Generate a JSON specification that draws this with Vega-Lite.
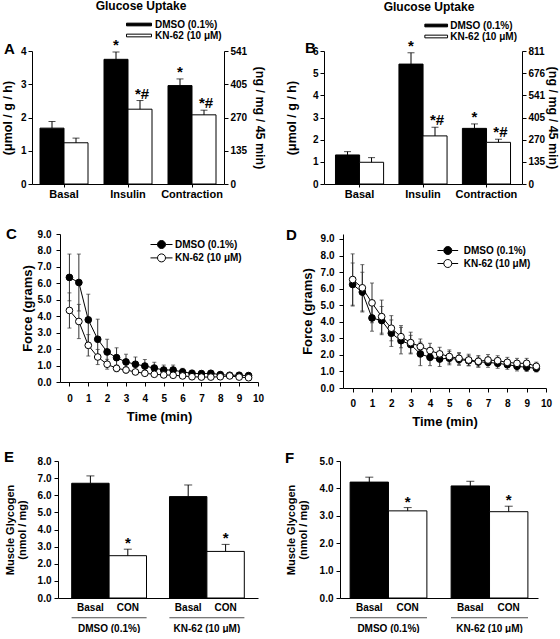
{
"$schema":"https://vega.github.io/schema/vega-lite/v6.json",
"padding":{"left":1,"top":0,"right":0,"bottom":0},
"spacing":22,
"resolve":{"scale":{"fill":"independent"},"legend":{"fill":"independent"}},
"config":{"view":{"stroke":null},"font":"Liberation Sans","background":"white",
"axis":{"grid":false,"domainColor":"black","tickColor":"black","labelColor":"black","titleColor":"black","labelFont":"Liberation Sans","titleFont":"Liberation Sans","labelFontWeight":"bold","titleFontWeight":"bold","labelFontSize":10,"tickSize":4,"labelFlush":false,"labelOverlap":false},
"legend":{"labelFont":"Liberation Sans","labelFontWeight":"bold","labelFontSize":10,"labelColor":"black","padding":0,"symbolStrokeColor":"black","symbolStrokeWidth":1},
"title":{"font":"Liberation Sans","fontWeight":"bold","color":"black","fontSize":15},
"text":{"font":"Liberation Sans","color":"black"}},
"vconcat":[
{"vconcat":[
{"hconcat":[
{"width":1,"height":1,"mark":"point","data":{"values":[]}},
{"width":192,"height":133,
 "title":{"text":"Glucose Uptake","anchor":"middle","frame":"group","dx":13,"fontSize":12,"offset":6},
 "data":{"values":[
  {"cond":"Basal","trt":"DMSO (0.1%)","m":1.68,"hi":1.88,"sig":""},
  {"cond":"Basal","trt":"KN-62 (10 μM)","m":1.24,"hi":1.38,"sig":""},
  {"cond":"Insulin","trt":"DMSO (0.1%)","m":3.75,"hi":3.97,"sig":"*"},
  {"cond":"Insulin","trt":"KN-62 (10 μM)","m":2.25,"hi":2.51,"sig":"*#"},
  {"cond":"Contraction","trt":"DMSO (0.1%)","m":2.96,"hi":3.16,"sig":"*"},
  {"cond":"Contraction","trt":"KN-62 (10 μM)","m":2.08,"hi":2.22,"sig":"*#"}]},
 "layer":[
  {"encoding":{
    "x":{"field":"cond","type":"nominal","sort":["Basal","Insulin","Contraction"],"scale":{"paddingInner":0.25,"paddingOuter":0.125},"axis":{"title":null,"labelAngle":0,"labelFontSize":11,"tickSize":3,"labelPadding":1}},
    "y":{"field":"m","type":"quantitative","scale":{"domain":[0,4],"nice":false},"axis":{"values":[0,1,2,3,4],"labelOverlap":false,"title":"(μmol / g / h)","titleFontSize":12.5,"labelPadding":2,"titlePadding":6}}},
   "layer":[
    {"transform":[{"filter":{"field":"trt","equal":"DMSO (0.1%)"}}],"mark":{"type":"bar","width":{"band":0.5},"xOffset":-12,"stroke":"black","strokeWidth":1},
     "encoding":{"fill":{"field":"trt","type":"nominal","scale":{"domain":["DMSO (0.1%)","KN-62 (10 μM)"],"range":["black","white"]},
       "legend":{"orient":"none","legendX":101.5,"legendY":-32,"title":null,"symbolType":"M-2.5,-0.27H2.5V0.27H-2.5Z","symbolSize":100,"labelOffset":10.5,"rowPadding":0}}}},
    {"transform":[{"filter":{"field":"trt","equal":"KN-62 (10 μM)"}}],"mark":{"type":"bar","width":{"band":0.5},"xOffset":12,"stroke":"black","strokeWidth":1},
     "encoding":{"fill":{"field":"trt","type":"nominal","scale":{"domain":["DMSO (0.1%)","KN-62 (10 μM)"],"range":["black","white"]},
       "legend":{"orient":"none","legendX":101.5,"legendY":-32,"title":null,"symbolType":"M-2.5,-0.27H2.5V0.27H-2.5Z","symbolSize":100,"labelOffset":10.5,"rowPadding":0}}}},
    {"transform":[{"filter":{"field":"trt","equal":"DMSO (0.1%)"}}],"mark":{"type":"rule","color":"black","xOffset":-12},"encoding":{"y2":{"field":"hi"}}},
    {"transform":[{"filter":{"field":"trt","equal":"KN-62 (10 μM)"}}],"mark":{"type":"rule","color":"black","xOffset":12},"encoding":{"y2":{"field":"hi"}}},
    {"transform":[{"filter":{"field":"trt","equal":"DMSO (0.1%)"}}],"mark":{"type":"tick","orient":"horizontal","size":7,"thickness":1,"color":"black","xOffset":-12},"encoding":{"y":{"field":"hi","type":"quantitative","scale":{"domain":[0,4],"nice":false},"axis":{"values":[0,1,2,3,4],"labelOverlap":false,"title":"(μmol / g / h)","titleFontSize":12.5,"labelPadding":2,"titlePadding":6}}}},
    {"transform":[{"filter":{"field":"trt","equal":"KN-62 (10 μM)"}}],"mark":{"type":"tick","orient":"horizontal","size":7,"thickness":1,"color":"black","xOffset":12},"encoding":{"y":{"field":"hi","type":"quantitative","scale":{"domain":[0,4],"nice":false},"axis":{"values":[0,1,2,3,4],"labelOverlap":false,"title":"(μmol / g / h)","titleFontSize":12.5,"labelPadding":2,"titlePadding":6}}}},
    {"transform":[{"filter":{"field":"trt","equal":"DMSO (0.1%)"}}],"mark":{"type":"text","fontSize":15,"fontWeight":"bold","baseline":"alphabetic","dy":-2,"xOffset":-12},"encoding":{"y":{"field":"hi","type":"quantitative","scale":{"domain":[0,4],"nice":false},"axis":{"values":[0,1,2,3,4],"labelOverlap":false,"title":"(μmol / g / h)","titleFontSize":12.5,"labelPadding":2,"titlePadding":6}},"text":{"field":"sig"}}},
    {"transform":[{"filter":{"field":"trt","equal":"KN-62 (10 μM)"}}],"mark":{"type":"text","fontSize":15,"fontWeight":"bold","baseline":"alphabetic","dy":-2,"xOffset":14},"encoding":{"y":{"field":"hi","type":"quantitative","scale":{"domain":[0,4],"nice":false},"axis":{"values":[0,1,2,3,4],"labelOverlap":false,"title":"(μmol / g / h)","titleFontSize":12.5,"labelPadding":2,"titlePadding":6}},"text":{"field":"sig"}}}
   ]},
  {"mark":{"type":"rule","opacity":0},"encoding":{"y":{"datum":0,"type":"quantitative","scale":{"domain":[0,541],"nice":false},"axis":{"orient":"right","values":[0,135,270,405,541],"labelOverlap":false,"title":"(ng / mg / 45 min)","titleFontSize":12.5,"labelPadding":2,"titlePadding":6}}}},
  {"data":{"values":[{"lab":"A"}]},"mark":{"type":"text","fontSize":15,"fontWeight":"bold","align":"left","baseline":"alphabetic"},"encoding":{"x":{"value":-28},"y":{"value":3},"text":{"field":"lab"}}}
 ],
 "resolve":{"scale":{"y":"independent"}}},
{"width":100,"height":1,"mark":"point","data":{"values":[]}},
{"width":198,"height":133,
 "title":{"text":"Glucose Uptake","anchor":"middle","frame":"group","dx":6,"fontSize":12,"offset":6},
 "data":{"values":[
  {"cond":"Basal","trt":"DMSO (0.1%)","m":1.31,"hi":1.46,"sig":""},
  {"cond":"Basal","trt":"KN-62 (10 μM)","m":0.98,"hi":1.19,"sig":""},
  {"cond":"Insulin","trt":"DMSO (0.1%)","m":5.41,"hi":5.92,"sig":"*"},
  {"cond":"Insulin","trt":"KN-62 (10 μM)","m":2.17,"hi":2.56,"sig":"*#"},
  {"cond":"Contraction","trt":"DMSO (0.1%)","m":2.51,"hi":2.71,"sig":"*"},
  {"cond":"Contraction","trt":"KN-62 (10 μM)","m":1.88,"hi":2.02,"sig":"*#"}]},
 "layer":[
  {"encoding":{
    "x":{"field":"cond","type":"nominal","sort":["Basal","Insulin","Contraction"],"scale":{"paddingInner":0.24,"paddingOuter":0.18},"axis":{"title":null,"labelAngle":0,"labelFontSize":11,"tickSize":3,"labelPadding":1}},
    "y":{"field":"m","type":"quantitative","scale":{"domain":[0,6],"nice":false},"axis":{"values":[0,1,2,3,4,5,6],"labelOverlap":false,"title":"(μmol / g / h)","titleFontSize":12.5,"labelPadding":2,"titlePadding":14}}},
   "layer":[
    {"transform":[{"filter":{"field":"trt","equal":"DMSO (0.1%)"}}],"mark":{"type":"bar","width":{"band":0.5},"xOffset":-12,"stroke":"black","strokeWidth":1},
     "encoding":{"fill":{"field":"trt","type":"nominal","scale":{"domain":["DMSO (0.1%)","KN-62 (10 μM)"],"range":["black","white"]},
       "legend":{"orient":"none","legendX":106.7,"legendY":-31,"title":null,"symbolType":"M-2.27,-0.27H2.27V0.27H-2.27Z","symbolSize":100,"labelOffset":8.6,"rowPadding":0}}}},
    {"transform":[{"filter":{"field":"trt","equal":"KN-62 (10 μM)"}}],"mark":{"type":"bar","width":{"band":0.5},"xOffset":12,"stroke":"black","strokeWidth":1},
     "encoding":{"fill":{"field":"trt","type":"nominal","scale":{"domain":["DMSO (0.1%)","KN-62 (10 μM)"],"range":["black","white"]},
       "legend":{"orient":"none","legendX":106.7,"legendY":-31,"title":null,"symbolType":"M-2.27,-0.27H2.27V0.27H-2.27Z","symbolSize":100,"labelOffset":8.6,"rowPadding":0}}}},
    {"transform":[{"filter":{"field":"trt","equal":"DMSO (0.1%)"}}],"mark":{"type":"rule","color":"black","xOffset":-12},"encoding":{"y2":{"field":"hi"}}},
    {"transform":[{"filter":{"field":"trt","equal":"KN-62 (10 μM)"}}],"mark":{"type":"rule","color":"black","xOffset":12},"encoding":{"y2":{"field":"hi"}}},
    {"transform":[{"filter":{"field":"trt","equal":"DMSO (0.1%)"}}],"mark":{"type":"tick","orient":"horizontal","size":7,"thickness":1,"color":"black","xOffset":-12},"encoding":{"y":{"field":"hi","type":"quantitative","scale":{"domain":[0,6],"nice":false},"axis":{"values":[0,1,2,3,4,5,6],"labelOverlap":false,"title":"(μmol / g / h)","titleFontSize":12.5,"labelPadding":2,"titlePadding":14}}}},
    {"transform":[{"filter":{"field":"trt","equal":"KN-62 (10 μM)"}}],"mark":{"type":"tick","orient":"horizontal","size":7,"thickness":1,"color":"black","xOffset":12},"encoding":{"y":{"field":"hi","type":"quantitative","scale":{"domain":[0,6],"nice":false},"axis":{"values":[0,1,2,3,4,5,6],"labelOverlap":false,"title":"(μmol / g / h)","titleFontSize":12.5,"labelPadding":2,"titlePadding":14}}}},
    {"transform":[{"filter":{"field":"trt","equal":"DMSO (0.1%)"}}],"mark":{"type":"text","fontSize":15,"fontWeight":"bold","baseline":"alphabetic","dy":-2,"xOffset":-12},"encoding":{"y":{"field":"hi","type":"quantitative","scale":{"domain":[0,6],"nice":false},"axis":{"values":[0,1,2,3,4,5,6],"labelOverlap":false,"title":"(μmol / g / h)","titleFontSize":12.5,"labelPadding":2,"titlePadding":14}},"text":{"field":"sig"}}},
    {"transform":[{"filter":{"field":"trt","equal":"KN-62 (10 μM)"}}],"mark":{"type":"text","fontSize":15,"fontWeight":"bold","baseline":"alphabetic","dy":-2,"xOffset":14},"encoding":{"y":{"field":"hi","type":"quantitative","scale":{"domain":[0,6],"nice":false},"axis":{"values":[0,1,2,3,4,5,6],"labelOverlap":false,"title":"(μmol / g / h)","titleFontSize":12.5,"labelPadding":2,"titlePadding":14}},"text":{"field":"sig"}}}
   ]},
  {"mark":{"type":"rule","opacity":0},"encoding":{"y":{"datum":0,"type":"quantitative","scale":{"domain":[0,811],"nice":false},"axis":{"orient":"right","values":[0,135,270,405,541,676,811],"labelOverlap":false,"title":"(ng / mg / 45 min)","titleFontSize":12.5,"labelPadding":2,"titlePadding":1}}}},
  {"data":{"values":[{"lab":"B"}]},"mark":{"type":"text","fontSize":15,"fontWeight":"bold","align":"left","baseline":"alphabetic"},"encoding":{"x":{"value":-19},"y":{"value":2},"text":{"field":"lab"}}}
 ],
 "resolve":{"scale":{"y":"independent"}}}
],"spacing":0,"bounds":"flush","resolve":{"scale":{"fill":"independent"},"legend":{"fill":"independent"}}},
{"hconcat":[
{"width":29,"height":1,"mark":"point","data":{"values":[]}},
{"width":198,"height":148,
 "title":{"text":"C","anchor":"start","frame":"group","dx":-54,"dy":13,"offset":0},
 "data":{"values":[
  {"t":0,"trt":"DMSO (0.1%)","m":6.36,"lo":4.94,"hi":7.78},
  {"t":0.5,"trt":"DMSO (0.1%)","m":6.05,"lo":4.32,"hi":7.78},
  {"t":1,"trt":"DMSO (0.1%)","m":3.78,"lo":2.22,"hi":5.34},
  {"t":1.5,"trt":"DMSO (0.1%)","m":2.60,"lo":1.38,"hi":3.82},
  {"t":2,"trt":"DMSO (0.1%)","m":1.83,"lo":1.06,"hi":2.60},
  {"t":2.5,"trt":"DMSO (0.1%)","m":1.48,"lo":0.88,"hi":2.08},
  {"t":3,"trt":"DMSO (0.1%)","m":1.22,"lo":0.75,"hi":1.69},
  {"t":3.5,"trt":"DMSO (0.1%)","m":1.08,"lo":0.64,"hi":1.52},
  {"t":4,"trt":"DMSO (0.1%)","m":0.97,"lo":0.57,"hi":1.37},
  {"t":4.5,"trt":"DMSO (0.1%)","m":0.85,"lo":0.50,"hi":1.20},
  {"t":5,"trt":"DMSO (0.1%)","m":0.73,"lo":0.43,"hi":1.03},
  {"t":5.5,"trt":"DMSO (0.1%)","m":0.73,"lo":0.43,"hi":1.03},
  {"t":6,"trt":"DMSO (0.1%)","m":0.61,"lo":0.39,"hi":0.83},
  {"t":6.5,"trt":"DMSO (0.1%)","m":0.53,"lo":0.35,"hi":0.71},
  {"t":7,"trt":"DMSO (0.1%)","m":0.51,"lo":0.36,"hi":0.66},
  {"t":7.5,"trt":"DMSO (0.1%)","m":0.53,"lo":0.38,"hi":0.68},
  {"t":8,"trt":"DMSO (0.1%)","m":0.45,"lo":0.33,"hi":0.57},
  {"t":8.5,"trt":"DMSO (0.1%)","m":0.41,"lo":0.29,"hi":0.53},
  {"t":9,"trt":"DMSO (0.1%)","m":0.41,"lo":0.29,"hi":0.53},
  {"t":9.5,"trt":"DMSO (0.1%)","m":0.39,"lo":0.27,"hi":0.51},
  {"t":0,"trt":"KN-62 (10 μM)","m":4.35,"lo":3.28,"hi":5.42},
  {"t":0.5,"trt":"KN-62 (10 μM)","m":3.68,"lo":2.64,"hi":4.72},
  {"t":1,"trt":"KN-62 (10 μM)","m":2.23,"lo":1.58,"hi":2.88},
  {"t":1.5,"trt":"KN-62 (10 μM)","m":1.52,"lo":1.06,"hi":1.98},
  {"t":2,"trt":"KN-62 (10 μM)","m":1.08,"lo":0.78,"hi":1.38},
  {"t":2.5,"trt":"KN-62 (10 μM)","m":0.83,"lo":0.63,"hi":1.03},
  {"t":3,"trt":"KN-62 (10 μM)","m":0.73,"lo":0.55,"hi":0.91},
  {"t":3.5,"trt":"KN-62 (10 μM)","m":0.61,"lo":0.46,"hi":0.76},
  {"t":4,"trt":"KN-62 (10 μM)","m":0.53,"lo":0.40,"hi":0.66},
  {"t":4.5,"trt":"KN-62 (10 μM)","m":0.47,"lo":0.35,"hi":0.59},
  {"t":5,"trt":"KN-62 (10 μM)","m":0.43,"lo":0.33,"hi":0.53},
  {"t":5.5,"trt":"KN-62 (10 μM)","m":0.41,"lo":0.31,"hi":0.51},
  {"t":6,"trt":"KN-62 (10 μM)","m":0.37,"lo":0.27,"hi":0.47},
  {"t":6.5,"trt":"KN-62 (10 μM)","m":0.32,"lo":0.24,"hi":0.40},
  {"t":7,"trt":"KN-62 (10 μM)","m":0.30,"lo":0.22,"hi":0.38},
  {"t":7.5,"trt":"KN-62 (10 μM)","m":0.30,"lo":0.22,"hi":0.38},
  {"t":8,"trt":"KN-62 (10 μM)","m":0.32,"lo":0.24,"hi":0.40},
  {"t":8.5,"trt":"KN-62 (10 μM)","m":0.37,"lo":0.29,"hi":0.45},
  {"t":9,"trt":"KN-62 (10 μM)","m":0.30,"lo":0.22,"hi":0.38},
  {"t":9.5,"trt":"KN-62 (10 μM)","m":0.26,"lo":0.18,"hi":0.34}]},
 "encoding":{"x":{"field":"t","type":"quantitative","scale":{"domain":[-0.5,10],"nice":false,"zero":false},"axis":{"values":[0,1,2,3,4,5,6,7,8,9,10],"labelOverlap":false,"title":"Time (min)","titleFontSize":13,"labelPadding":7,"titlePadding":7}}},
 "layer":[
  {"mark":{"type":"rule","color":"#333333"},"encoding":{"y":{"field":"lo","type":"quantitative","scale":{"domain":[0,9],"nice":false},"axis":{"values":[0,1,2,3,4,5,6,7,8,9],"labelOverlap":false,"format":".1f","title":"Force (grams)","titleFontSize":13,"labelPadding":5,"titlePadding":3}},"y2":{"field":"hi"}}},
  {"mark":{"type":"tick","orient":"horizontal","size":4,"thickness":1,"color":"#333333"},"encoding":{"y":{"field":"hi","type":"quantitative","scale":{"domain":[0,9],"nice":false},"axis":{"values":[0,1,2,3,4,5,6,7,8,9],"labelOverlap":false,"format":".1f","title":"Force (grams)","titleFontSize":13,"labelPadding":5,"titlePadding":3}}}},
  {"mark":{"type":"tick","orient":"horizontal","size":4,"thickness":1,"color":"#333333"},"encoding":{"y":{"field":"lo","type":"quantitative","scale":{"domain":[0,9],"nice":false},"axis":{"values":[0,1,2,3,4,5,6,7,8,9],"labelOverlap":false,"format":".1f","title":"Force (grams)","titleFontSize":13,"labelPadding":5,"titlePadding":3}}}},
  {"mark":{"type":"line","color":"black","strokeWidth":1},"encoding":{"y":{"field":"m","type":"quantitative","scale":{"domain":[0,9],"nice":false},"axis":{"values":[0,1,2,3,4,5,6,7,8,9],"labelOverlap":false,"format":".1f","title":"Force (grams)","titleFontSize":13,"labelPadding":5,"titlePadding":3}},"detail":{"field":"trt"}}},
  {"mark":{"type":"circle","size":45,"stroke":"black","strokeWidth":1,"opacity":1},"encoding":{"y":{"field":"m","type":"quantitative","scale":{"domain":[0,9],"nice":false},"axis":{"values":[0,1,2,3,4,5,6,7,8,9],"labelOverlap":false,"format":".1f","title":"Force (grams)","titleFontSize":13,"labelPadding":5,"titlePadding":3}},
    "fill":{"field":"trt","type":"nominal","scale":{"domain":["DMSO (0.1%)","KN-62 (10 μM)"],"range":["black","white"]},
     "legend":{"orient":"none","legendX":96,"legendY":5,"title":null,"symbolType":"M-2.2,0H-0.8M0.8,0H2.2M-0.8,0A0.8,0.8 0 1,1 0.8,0A0.8,0.8 0 1,1 -0.8,0Z","symbolSize":100,"labelOffset":8,"rowPadding":0.4}}}}
 ]},
{"width":85,"height":1,"mark":"point","data":{"values":[]}},
{"width":203,"height":154,
 "title":{"text":"D","anchor":"start","frame":"group","dx":-57,"dy":9,"offset":0},
 "data":{"values":[
  {"t":0,"trt":"DMSO (0.1%)","m":6.25,"lo":4.95,"hi":7.55},
  {"t":0.5,"trt":"DMSO (0.1%)","m":5.79,"lo":4.59,"hi":6.99},
  {"t":1,"trt":"DMSO (0.1%)","m":4.23,"lo":3.43,"hi":5.03},
  {"t":1.5,"trt":"DMSO (0.1%)","m":4.07,"lo":3.22,"hi":4.92},
  {"t":2,"trt":"DMSO (0.1%)","m":3.31,"lo":2.51,"hi":4.11},
  {"t":2.5,"trt":"DMSO (0.1%)","m":2.86,"lo":2.06,"hi":3.66},
  {"t":3,"trt":"DMSO (0.1%)","m":2.62,"lo":2.06,"hi":3.18},
  {"t":3.5,"trt":"DMSO (0.1%)","m":2.06,"lo":1.35,"hi":2.77},
  {"t":4,"trt":"DMSO (0.1%)","m":1.85,"lo":1.35,"hi":2.35},
  {"t":4.5,"trt":"DMSO (0.1%)","m":1.75,"lo":1.30,"hi":2.20},
  {"t":5,"trt":"DMSO (0.1%)","m":1.80,"lo":1.40,"hi":2.20},
  {"t":5.5,"trt":"DMSO (0.1%)","m":1.72,"lo":1.37,"hi":2.07},
  {"t":6,"trt":"DMSO (0.1%)","m":1.65,"lo":1.35,"hi":1.95},
  {"t":6.5,"trt":"DMSO (0.1%)","m":1.57,"lo":1.27,"hi":1.87},
  {"t":7,"trt":"DMSO (0.1%)","m":1.55,"lo":1.25,"hi":1.85},
  {"t":7.5,"trt":"DMSO (0.1%)","m":1.49,"lo":1.19,"hi":1.79},
  {"t":8,"trt":"DMSO (0.1%)","m":1.41,"lo":1.13,"hi":1.69},
  {"t":8.5,"trt":"DMSO (0.1%)","m":1.31,"lo":1.03,"hi":1.59},
  {"t":9,"trt":"DMSO (0.1%)","m":1.25,"lo":1.00,"hi":1.50},
  {"t":9.5,"trt":"DMSO (0.1%)","m":1.19,"lo":0.97,"hi":1.41},
  {"t":0,"trt":"KN-62 (10 μM)","m":6.55,"lo":5.00,"hi":8.10},
  {"t":0.5,"trt":"KN-62 (10 μM)","m":6.05,"lo":4.65,"hi":7.45},
  {"t":1,"trt":"KN-62 (10 μM)","m":5.14,"lo":3.94,"hi":6.34},
  {"t":1.5,"trt":"KN-62 (10 μM)","m":4.31,"lo":3.31,"hi":5.31},
  {"t":2,"trt":"KN-62 (10 μM)","m":3.61,"lo":2.85,"hi":4.37},
  {"t":2.5,"trt":"KN-62 (10 μM)","m":3.10,"lo":2.43,"hi":3.77},
  {"t":3,"trt":"KN-62 (10 μM)","m":2.74,"lo":2.11,"hi":3.37},
  {"t":3.5,"trt":"KN-62 (10 μM)","m":2.50,"lo":2.04,"hi":2.96},
  {"t":4,"trt":"KN-62 (10 μM)","m":2.26,"lo":1.82,"hi":2.70},
  {"t":4.5,"trt":"KN-62 (10 μM)","m":2.06,"lo":1.66,"hi":2.46},
  {"t":5,"trt":"KN-62 (10 μM)","m":1.90,"lo":1.50,"hi":2.30},
  {"t":5.5,"trt":"KN-62 (10 μM)","m":1.79,"lo":1.44,"hi":2.14},
  {"t":6,"trt":"KN-62 (10 μM)","m":1.69,"lo":1.34,"hi":2.04},
  {"t":6.5,"trt":"KN-62 (10 μM)","m":1.61,"lo":1.26,"hi":1.96},
  {"t":7,"trt":"KN-62 (10 μM)","m":1.69,"lo":1.36,"hi":2.02},
  {"t":7.5,"trt":"KN-62 (10 μM)","m":1.65,"lo":1.35,"hi":1.95},
  {"t":8,"trt":"KN-62 (10 μM)","m":1.55,"lo":1.25,"hi":1.85},
  {"t":8.5,"trt":"KN-62 (10 μM)","m":1.49,"lo":1.19,"hi":1.79},
  {"t":9,"trt":"KN-62 (10 μM)","m":1.49,"lo":1.19,"hi":1.79},
  {"t":9.5,"trt":"KN-62 (10 μM)","m":1.31,"lo":1.06,"hi":1.56}]},
 "encoding":{"x":{"field":"t","type":"quantitative","scale":{"domain":[-0.5,10],"nice":false,"zero":false},"axis":{"values":[0,1,2,3,4,5,6,7,8,9,10],"labelOverlap":false,"title":"Time (min)","titleFontSize":13,"labelPadding":6,"titlePadding":7}}},
 "layer":[
  {"mark":{"type":"rule","color":"#333333"},"encoding":{"y":{"field":"lo","type":"quantitative","scale":{"domain":[0,9.3],"nice":false},"axis":{"values":[0,1,2,3,4,5,6,7,8,9],"labelOverlap":false,"format":".1f","title":"Force (grams)","titleFontSize":13,"labelPadding":5,"titlePadding":6}},"y2":{"field":"hi"}}},
  {"mark":{"type":"tick","orient":"horizontal","size":4,"thickness":1,"color":"#333333"},"encoding":{"y":{"field":"hi","type":"quantitative","scale":{"domain":[0,9.3],"nice":false},"axis":{"values":[0,1,2,3,4,5,6,7,8,9],"labelOverlap":false,"format":".1f","title":"Force (grams)","titleFontSize":13,"labelPadding":5,"titlePadding":6}}}},
  {"mark":{"type":"tick","orient":"horizontal","size":4,"thickness":1,"color":"#333333"},"encoding":{"y":{"field":"lo","type":"quantitative","scale":{"domain":[0,9.3],"nice":false},"axis":{"values":[0,1,2,3,4,5,6,7,8,9],"labelOverlap":false,"format":".1f","title":"Force (grams)","titleFontSize":13,"labelPadding":5,"titlePadding":6}}}},
  {"mark":{"type":"line","color":"black","strokeWidth":1},"encoding":{"y":{"field":"m","type":"quantitative","scale":{"domain":[0,9.3],"nice":false},"axis":{"values":[0,1,2,3,4,5,6,7,8,9],"labelOverlap":false,"format":".1f","title":"Force (grams)","titleFontSize":13,"labelPadding":5,"titlePadding":6}},"detail":{"field":"trt"}}},
  {"mark":{"type":"circle","size":45,"stroke":"black","strokeWidth":1,"opacity":1},"encoding":{"y":{"field":"m","type":"quantitative","scale":{"domain":[0,9.3],"nice":false},"axis":{"values":[0,1,2,3,4,5,6,7,8,9],"labelOverlap":false,"format":".1f","title":"Force (grams)","titleFontSize":13,"labelPadding":5,"titlePadding":6}},
    "fill":{"field":"trt","type":"nominal","scale":{"domain":["DMSO (0.1%)","KN-62 (10 μM)"],"range":["black","white"]},
     "legend":{"orient":"none","legendX":99.3,"legendY":11,"title":null,"symbolType":"M-2.07,0H-0.8M0.8,0H2.07M-0.8,0A0.8,0.8 0 1,1 0.8,0A0.8,0.8 0 1,1 -0.8,0Z","symbolSize":100,"labelOffset":10.4,"rowPadding":0}}}}
 ]}
],"spacing":0,"bounds":"flush","resolve":{"scale":{"fill":"independent"},"legend":{"fill":"independent"}}}
],"spacing":28,"resolve":{"scale":{"fill":"independent"},"legend":{"fill":"independent"}}},
{"hconcat":[
{"width":27,"height":1,"mark":"point","data":{"values":[]}},
{"width":200,"height":137,
 "title":{"text":"E","anchor":"start","frame":"group","dx":-54,"dy":9,"offset":0},
 "data":{"values":[
  {"grp":"DMSO (0.1%)","cond":"Basal","m":6.70,"hi":7.13,"sig":""},
  {"grp":"DMSO (0.1%)","cond":"CON","m":2.47,"hi":2.85,"sig":"*"},
  {"grp":"KN-62 (10 μM)","cond":"Basal","m":5.92,"hi":6.60,"sig":""},
  {"grp":"KN-62 (10 μM)","cond":"CON","m":2.72,"hi":3.13,"sig":"*"}]},
 "encoding":{"x":{"field":"grp","type":"nominal","sort":["DMSO (0.1%)","KN-62 (10 μM)"],"scale":{"paddingInner":0.235,"paddingOuter":0.14},"axis":{"title":null,"labelAngle":0,"ticks":false,"labelPadding":25}},
   "y":{"field":"m","type":"quantitative","scale":{"domain":[0,8],"nice":false},"axis":{"values":[0,1,2,3,4,5,6,7,8],"labelOverlap":false,"format":".1f","title":["Muscle Glycogen","(nmol / mg)"],"titleFontSize":11,"titleLineHeight":12,"labelPadding":3,"titlePadding":10}}},
 "layer":[
  {"transform":[{"filter":{"field":"cond","equal":"Basal"}}],"mark":{"type":"bar","width":{"band":0.5},"xOffset":-18.7,"fill":"black","stroke":"black","strokeWidth":1}},
  {"transform":[{"filter":{"field":"cond","equal":"CON"}}],"mark":{"type":"bar","width":{"band":0.5},"xOffset":18.7,"fill":"white","stroke":"black","strokeWidth":1}},
  {"transform":[{"filter":{"field":"cond","equal":"Basal"}}],"mark":{"type":"rule","color":"black","xOffset":-18.7},"encoding":{"y2":{"field":"hi"}}},
  {"transform":[{"filter":{"field":"cond","equal":"CON"}}],"mark":{"type":"rule","color":"black","xOffset":18.7},"encoding":{"y2":{"field":"hi"}}},
  {"transform":[{"filter":{"field":"cond","equal":"Basal"}}],"mark":{"type":"tick","orient":"horizontal","size":8,"thickness":1,"color":"black","xOffset":-18.7},"encoding":{"y":{"field":"hi","type":"quantitative","scale":{"domain":[0,8],"nice":false},"axis":{"values":[0,1,2,3,4,5,6,7,8],"labelOverlap":false,"format":".1f","title":["Muscle Glycogen","(nmol / mg)"],"titleFontSize":11,"titleLineHeight":12,"labelPadding":3,"titlePadding":10}}}},
  {"transform":[{"filter":{"field":"cond","equal":"CON"}}],"mark":{"type":"tick","orient":"horizontal","size":8,"thickness":1,"color":"black","xOffset":18.7},"encoding":{"y":{"field":"hi","type":"quantitative","scale":{"domain":[0,8],"nice":false},"axis":{"values":[0,1,2,3,4,5,6,7,8],"labelOverlap":false,"format":".1f","title":["Muscle Glycogen","(nmol / mg)"],"titleFontSize":11,"titleLineHeight":12,"labelPadding":3,"titlePadding":10}}}},
  {"transform":[{"filter":{"field":"cond","equal":"CON"}}],"mark":{"type":"text","fontSize":15,"fontWeight":"bold","baseline":"alphabetic","dy":-1,"xOffset":18.7},"encoding":{"y":{"field":"hi","type":"quantitative","scale":{"domain":[0,8],"nice":false},"axis":{"values":[0,1,2,3,4,5,6,7,8],"labelOverlap":false,"format":".1f","title":["Muscle Glycogen","(nmol / mg)"],"titleFontSize":11,"titleLineHeight":12,"labelPadding":3,"titlePadding":10}},"text":{"field":"sig"}}},
  {"transform":[{"filter":{"field":"cond","equal":"Basal"}}],"mark":{"type":"text","fontSize":10,"fontWeight":"bold","baseline":"middle","xOffset":-18.7},"encoding":{"y":{"datum":-0.61,"type":"quantitative","scale":{"domain":[0,8],"nice":false},"axis":{"values":[0,1,2,3,4,5,6,7,8],"labelOverlap":false,"format":".1f","title":["Muscle Glycogen","(nmol / mg)"],"titleFontSize":11,"titleLineHeight":12,"labelPadding":3,"titlePadding":10}},"text":{"field":"cond"}}},
  {"transform":[{"filter":{"field":"cond","equal":"CON"}}],"mark":{"type":"text","fontSize":10,"fontWeight":"bold","baseline":"middle","xOffset":18.7},"encoding":{"y":{"datum":-0.61,"type":"quantitative","scale":{"domain":[0,8],"nice":false},"axis":{"values":[0,1,2,3,4,5,6,7,8],"labelOverlap":false,"format":".1f","title":["Muscle Glycogen","(nmol / mg)"],"titleFontSize":11,"titleLineHeight":12,"labelPadding":3,"titlePadding":10}},"text":{"field":"cond"}}},
  {"transform":[{"filter":{"field":"cond","equal":"Basal"}}],"mark":{"type":"tick","orient":"horizontal","size":75,"thickness":1,"color":"black"},"encoding":{"y":{"datum":-1.15,"type":"quantitative","scale":{"domain":[0,8],"nice":false},"axis":{"values":[0,1,2,3,4,5,6,7,8],"labelOverlap":false,"format":".1f","title":["Muscle Glycogen","(nmol / mg)"],"titleFontSize":11,"titleLineHeight":12,"labelPadding":3,"titlePadding":10}}}}
 ]},
{"width":82,"height":1,"mark":"point","data":{"values":[]}},
{"width":198,"height":137,
 "title":{"text":"F","anchor":"start","frame":"group","dx":-55,"dy":10,"offset":0},
 "data":{"values":[
  {"grp":"DMSO (0.1%)","cond":"Basal","m":4.23,"hi":4.41,"sig":""},
  {"grp":"DMSO (0.1%)","cond":"CON","m":3.18,"hi":3.30,"sig":"*"},
  {"grp":"KN-62 (10 μM)","cond":"Basal","m":4.09,"hi":4.26,"sig":""},
  {"grp":"KN-62 (10 μM)","cond":"CON","m":3.15,"hi":3.35,"sig":"*"}]},
 "encoding":{"x":{"field":"grp","type":"nominal","sort":["DMSO (0.1%)","KN-62 (10 μM)"],"scale":{"paddingInner":0.24,"paddingOuter":0.1},"axis":{"title":null,"labelAngle":0,"ticks":false,"labelPadding":25}},
   "y":{"field":"m","type":"quantitative","scale":{"domain":[0,5],"nice":false},"axis":{"values":[0,1,2,3,4,5],"labelOverlap":false,"format":".1f","title":["Muscle Glycogen","(nmol / mg)"],"titleFontSize":11,"titleLineHeight":12,"labelPadding":3,"titlePadding":11}}},
 "layer":[
  {"transform":[{"filter":{"field":"cond","equal":"Basal"}}],"mark":{"type":"bar","width":{"band":0.5},"xOffset":-19.2,"fill":"black","stroke":"black","strokeWidth":1}},
  {"transform":[{"filter":{"field":"cond","equal":"CON"}}],"mark":{"type":"bar","width":{"band":0.5},"xOffset":19.2,"fill":"white","stroke":"black","strokeWidth":1}},
  {"transform":[{"filter":{"field":"cond","equal":"Basal"}}],"mark":{"type":"rule","color":"black","xOffset":-19.2},"encoding":{"y2":{"field":"hi"}}},
  {"transform":[{"filter":{"field":"cond","equal":"CON"}}],"mark":{"type":"rule","color":"black","xOffset":19.2},"encoding":{"y2":{"field":"hi"}}},
  {"transform":[{"filter":{"field":"cond","equal":"Basal"}}],"mark":{"type":"tick","orient":"horizontal","size":8,"thickness":1,"color":"black","xOffset":-19.2},"encoding":{"y":{"field":"hi","type":"quantitative","scale":{"domain":[0,5],"nice":false},"axis":{"values":[0,1,2,3,4,5],"labelOverlap":false,"format":".1f","title":["Muscle Glycogen","(nmol / mg)"],"titleFontSize":11,"titleLineHeight":12,"labelPadding":3,"titlePadding":11}}}},
  {"transform":[{"filter":{"field":"cond","equal":"CON"}}],"mark":{"type":"tick","orient":"horizontal","size":8,"thickness":1,"color":"black","xOffset":19.2},"encoding":{"y":{"field":"hi","type":"quantitative","scale":{"domain":[0,5],"nice":false},"axis":{"values":[0,1,2,3,4,5],"labelOverlap":false,"format":".1f","title":["Muscle Glycogen","(nmol / mg)"],"titleFontSize":11,"titleLineHeight":12,"labelPadding":3,"titlePadding":11}}}},
  {"transform":[{"filter":{"field":"cond","equal":"CON"}}],"mark":{"type":"text","fontSize":15,"fontWeight":"bold","baseline":"alphabetic","dy":-1,"xOffset":19.2},"encoding":{"y":{"field":"hi","type":"quantitative","scale":{"domain":[0,5],"nice":false},"axis":{"values":[0,1,2,3,4,5],"labelOverlap":false,"format":".1f","title":["Muscle Glycogen","(nmol / mg)"],"titleFontSize":11,"titleLineHeight":12,"labelPadding":3,"titlePadding":11}},"text":{"field":"sig"}}},
  {"transform":[{"filter":{"field":"cond","equal":"Basal"}}],"mark":{"type":"text","fontSize":10,"fontWeight":"bold","baseline":"middle","xOffset":-19.2},"encoding":{"y":{"datum":-0.38,"type":"quantitative","scale":{"domain":[0,5],"nice":false},"axis":{"values":[0,1,2,3,4,5],"labelOverlap":false,"format":".1f","title":["Muscle Glycogen","(nmol / mg)"],"titleFontSize":11,"titleLineHeight":12,"labelPadding":3,"titlePadding":11}},"text":{"field":"cond"}}},
  {"transform":[{"filter":{"field":"cond","equal":"CON"}}],"mark":{"type":"text","fontSize":10,"fontWeight":"bold","baseline":"middle","xOffset":19.2},"encoding":{"y":{"datum":-0.38,"type":"quantitative","scale":{"domain":[0,5],"nice":false},"axis":{"values":[0,1,2,3,4,5],"labelOverlap":false,"format":".1f","title":["Muscle Glycogen","(nmol / mg)"],"titleFontSize":11,"titleLineHeight":12,"labelPadding":3,"titlePadding":11}},"text":{"field":"cond"}}},
  {"transform":[{"filter":{"field":"cond","equal":"Basal"}}],"mark":{"type":"tick","orient":"horizontal","size":77,"thickness":1,"color":"black"},"encoding":{"y":{"datum":-0.72,"type":"quantitative","scale":{"domain":[0,5],"nice":false},"axis":{"values":[0,1,2,3,4,5],"labelOverlap":false,"format":".1f","title":["Muscle Glycogen","(nmol / mg)"],"titleFontSize":11,"titleLineHeight":12,"labelPadding":3,"titlePadding":11}}}}
 ]}
],"spacing":0,"bounds":"flush","resolve":{"scale":{"fill":"independent"},"legend":{"fill":"independent"}}}
]
}
